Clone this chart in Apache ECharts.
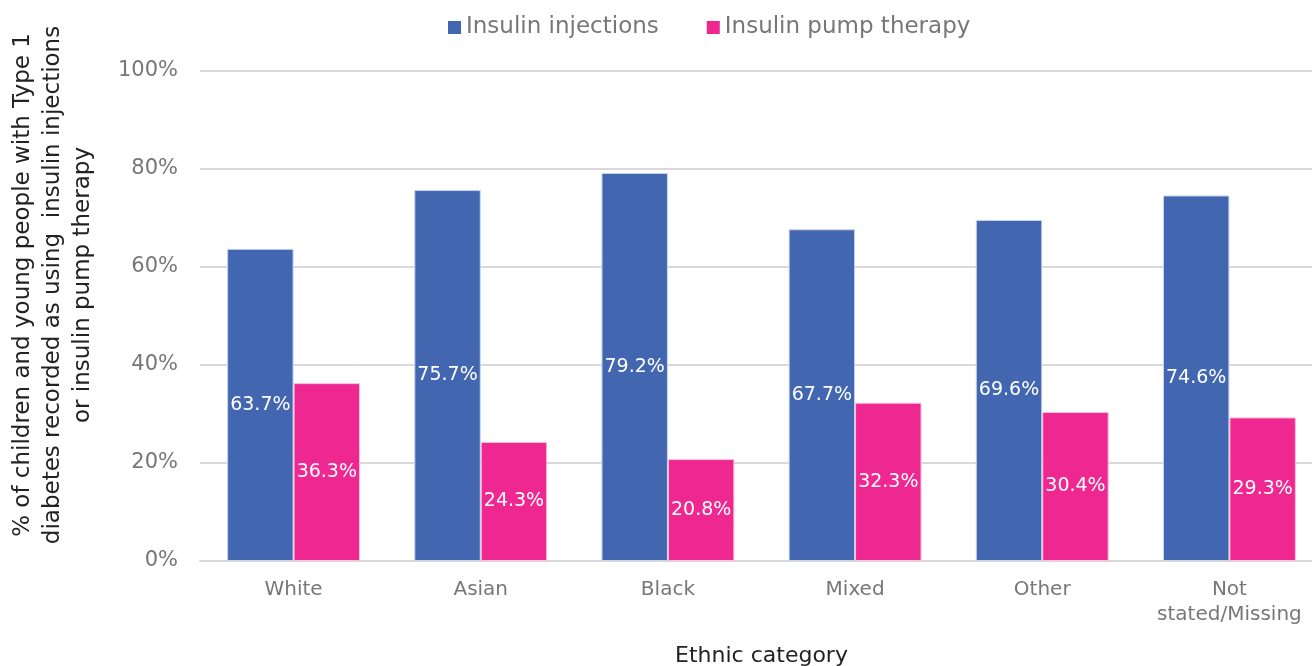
<!DOCTYPE html>
<html>
<head>
<meta charset="utf-8">
<script src="https://cdn.jsdelivr.net/npm/echarts@6/dist/echarts.min.js"></script>
<style>
  html, body { margin: 0; padding: 0; background: #fff; }
  #chart { width: 1312px; height: 666px; }
</style>
</head>
<body>
<div id="chart"></div>
<script>
// Ethnic categories along the x axis
const categories = ['White', 'Asian', 'Black', 'Mixed', 'Other', 'Not\nstated/Missing'];
// Share of children and young people (%) by treatment type
const injections = [63.7, 75.7, 79.2, 67.7, 69.6, 74.6];
const pumpTherapy = [36.3, 24.3, 20.8, 32.3, 30.4, 29.3];
const seriesNames = ['Insulin injections', 'Insulin pump therapy'];
const yTicks = { min: 0, max: 100, interval: 20 };

const FONT = '"DejaVu Sans", sans-serif';
const GREY = '#777777';
const BLUE = '#4267B0';
const PINK = '#EE2890';

const chart = echarts.init(document.getElementById('chart'), null, { renderer: 'canvas' });

const barLabel = {
  show: true,
  position: 'inside',
  color: '#ffffff',
  fontFamily: FONT,
  fontSize: 19,
  formatter: p => p.value.toFixed(1) + '%'
};

chart.setOption({
  animation: false,
  backgroundColor: '#ffffff',
  legend: {
    top: 11,
    left: 443,
    itemWidth: 13,
    itemHeight: 13,
    itemGap: 48,
    icon: 'rect',
    itemStyle: { borderWidth: 0 },
    textStyle: { color: GREY, fontFamily: FONT, fontSize: 23 },
    data: seriesNames
  },
  grid: { left: 200, top: 71, bottom: 105, width: 1123, outerBoundsMode: 'none' },
  graphic: [{
    type: 'text',
    x: 53,
    y: 285,
    rotation: Math.PI / 2,
    style: {
      text: '% of children and young people with Type 1\ndiabetes recorded as using  insulin injections\nor insulin pump therapy',
      fill: '#222222',
      font: '23px "DejaVu Sans", sans-serif',
      textAlign: 'center',
      textVerticalAlign: 'middle',
      lineHeight: 30
    }
  }],
  xAxis: {
    type: 'category',
    data: categories,
    name: 'Ethnic category',
    nameLocation: 'middle',
    nameGap: 84,
    nameTextStyle: { color: '#222222', fontFamily: FONT, fontSize: 22 },
    axisLine: { lineStyle: { color: '#d9d9d9', width: 2 } },
    axisTick: { show: false },
    axisLabel: {
      color: GREY, fontFamily: FONT, fontSize: 20, margin: 16, lineHeight: 25,
      interval: 0
    }
  },
  yAxis: {
    type: 'value',
    min: yTicks.min,
    max: yTicks.max,
    interval: yTicks.interval,
    axisLine: { show: false },
    axisTick: { show: false },
    axisLabel: {
      color: GREY, fontFamily: FONT, fontSize: 21, margin: 22,
      formatter: v => v + '%'
    },
    splitLine: { lineStyle: { color: '#d9d9d9', width: 2 } }
  },
  series: [
    {
      name: seriesNames[0],
      type: 'bar',
      data: injections,
      barGap: '0%',
      barCategoryGap: '29%',
      itemStyle: { color: BLUE, borderColor: '#c9d3ea', borderWidth: 1 },
      label: barLabel
    },
    {
      name: seriesNames[1],
      type: 'bar',
      data: pumpTherapy,
      barGap: '0%',
      barCategoryGap: '29%',
      itemStyle: { color: PINK, borderColor: '#f7c0dc', borderWidth: 1 },
      label: barLabel
    }
  ]
});
</script>
</body>
</html>
